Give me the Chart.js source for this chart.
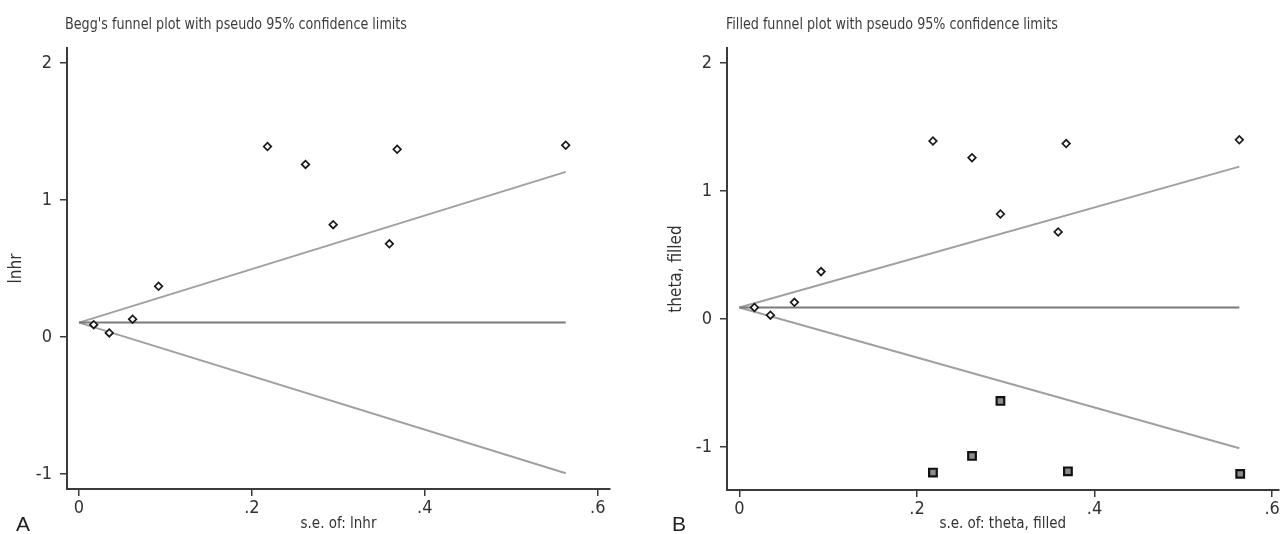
<!DOCTYPE html>
<html lang="en">
<head>
<meta charset="utf-8">
<title>Funnel plots</title>
<script src="https://cdn.jsdelivr.net/npm/chart.js@4.4.1/dist/chart.umd.min.js"></script>
<style>
  html, body {
    margin: 0;
    padding: 0;
    background: #ffffff;
    overflow: hidden;
  }
  .page {
    position: relative;
    width: 1286px;
    height: 534px;
  }
  .panel {
    position: absolute;
    top: 0;
  }
  .panel canvas {
    display: block;
  }
  .panel-title {
    position: absolute;
    top: 14px;
    font-family: "Liberation Sans Narrow", "DejaVu Sans Condensed", "Liberation Sans", sans-serif;
    font-size: 16px;
    line-height: 20px;
    color: #3c3c3c;
    white-space: nowrap;
    transform: scaleX(0.885);
    transform-origin: left center;
  }
  .panel-letter {
    position: absolute;
    top: 511px;
    font-family: "Liberation Sans", Arial, sans-serif;
    font-size: 21px;
    line-height: 26px;
    color: #222222;
  }
</style>
</head>
<body>
<div class="page">
  <div class="panel" style="left: 0; width: 640px; height: 534px;">
    <canvas id="beggChart" width="640" height="534"></canvas>
  </div>
  <div class="panel" style="left: 640px; width: 646px; height: 534px;">
    <canvas id="filledChart" width="646" height="534"></canvas>
  </div>
  <div class="panel-title" style="left: 65px;">Begg's funnel plot with pseudo 95% confidence limits</div>
  <div class="panel-title" style="left: 726px;">Filled funnel plot with pseudo 95% confidence limits</div>
  <div class="panel-letter" style="left: 16px;">A</div>
  <div class="panel-letter" style="left: 672px;">B</div>
</div>

<script>
// observed studies (same in both panels)
const STUDY_SE = [0.017, 0.035, 0.062, 0.092, 0.218, 0.262, 0.294, 0.359, 0.368, 0.563];
const STUDY_LNHR = [0.09, 0.03, 0.13, 0.37, 1.39, 1.26, 0.82, 0.68, 1.37, 1.40];

// imputed (trim and fill) studies, panel B only
const FILLED_SE = [0.218, 0.262, 0.294, 0.370, 0.564];
const FILLED_THETA = [-1.20, -1.07, -0.64, -1.19, -1.21];

// pseudo 95% limits: start and end of each line
const LIMIT_SE = [0, 0.563];
const BEGG_POOLED = [0.105, 0.105];
const BEGG_UPPER = [0.105, 1.205];
const BEGG_LOWER = [0.105, -0.995];
const FILLED_POOLED = [0.09, 0.09];
const FILLED_UPPER = [0.09, 1.19];
const FILLED_LOWER = [0.09, -1.01];

const X_TICKS = [0, 0.2, 0.4, 0.6];
const X_TICK_LABELS = ["0", ".2", ".4", ".6"];
const Y_TICKS = [-1, 0, 1, 2];
const Y_TICK_LABELS = ["-1", "0", "1", "2"];

const NARROW_FONT = "'Liberation Sans Narrow', 'DejaVu Sans Condensed', 'Liberation Sans', sans-serif";
const AXIS_COLOR = "#3a3a3a";
const TEXT_COLOR = "#333333";

function toPoints(xs, ys) {
  return xs.map((x, index) => ({ x, y: ys[index] }));
}

function limitLine(ys, color) {
  return {
    type: "line",
    data: toPoints(LIMIT_SE, ys),
    borderColor: color,
    borderWidth: 2,
    pointRadius: 0,
    fill: false,
    order: 2,
  };
}

function studyMarkers(xs, ys) {
  return {
    type: "scatter",
    data: toPoints(xs, ys),
    pointStyle: "rectRot",
    pointRadius: 3.8,
    pointBorderWidth: 1.7,
    pointBorderColor: "#1a1a1a",
    pointBackgroundColor: "#ffffff",
    order: 0,
  };
}

function filledMarkers(xs, ys) {
  return {
    type: "scatter",
    data: toPoints(xs, ys),
    pointStyle: "rect",
    pointRadius: 5.4,
    pointBorderWidth: 2.2,
    pointBorderColor: "#111111",
    pointBackgroundColor: "#8c8c8c",
    order: 0,
  };
}

function fixedTicks(values, labels) {
  return {
    afterBuildTicks: (scale) => {
      scale.ticks = values.map((value) => ({ value }));
    },
    labelFor: (value) => labels[values.indexOf(value)] ?? "",
  };
}

function buildChart(canvasId, datasets, cfg) {
  const xTicks = fixedTicks(X_TICKS, X_TICK_LABELS);
  const yTicks = fixedTicks(Y_TICKS, Y_TICK_LABELS);

  return new Chart(document.getElementById(canvasId), {
    type: "scatter",
    data: { datasets },
    options: {
      responsive: false,
      animation: false,
      devicePixelRatio: 1,
      layout: {
        padding: { top: 48, right: cfg.rightPad, left: 0, bottom: 0 },
      },
      plugins: {
        legend: { display: false },
        tooltip: { enabled: false },
        title: { display: false },
      },
      scales: {
        x: {
          type: "linear",
          min: cfg.xMin,
          max: cfg.xMax,
          afterBuildTicks: xTicks.afterBuildTicks,
          afterFit: (scale) => {
            scale.height = cfg.xHeight;
          },
          border: { display: true, color: AXIS_COLOR, width: 2 },
          grid: {
            drawOnChartArea: false,
            drawTicks: true,
            tickLength: 7,
            tickColor: AXIS_COLOR,
            lineWidth: 1.5,
          },
          ticks: {
            padding: 2,
            color: TEXT_COLOR,
            font: { family: NARROW_FONT, size: 18 },
            maxRotation: 0,
            autoSkip: false,
            callback: (value) => xTicks.labelFor(value),
          },
          title: {
            display: true,
            text: cfg.xTitle,
            color: TEXT_COLOR,
            font: { family: NARROW_FONT, size: 15, lineHeight: 1.2 },
            padding: { top: 0, bottom: 1 },
          },
        },
        y: {
          type: "linear",
          min: cfg.yMin,
          max: cfg.yMax,
          afterBuildTicks: yTicks.afterBuildTicks,
          afterFit: (scale) => {
            scale.width = cfg.yWidth;
          },
          border: { display: true, color: AXIS_COLOR, width: 2 },
          grid: {
            drawOnChartArea: false,
            drawTicks: true,
            tickLength: 7,
            tickColor: AXIS_COLOR,
            lineWidth: 1.5,
          },
          ticks: {
            padding: 8,
            color: TEXT_COLOR,
            font: { family: NARROW_FONT, size: 18 },
            autoSkip: false,
            callback: (value) => yTicks.labelFor(value),
          },
          title: {
            display: true,
            text: cfg.yTitle,
            color: TEXT_COLOR,
            font: { family: NARROW_FONT, size: 17, lineHeight: 1.2 },
            padding: { top: cfg.yTitlePad, bottom: 0 },
          },
        },
      },
    },
  });
}

buildChart("beggChart", [
  studyMarkers(STUDY_SE, STUDY_LNHR),
  limitLine(BEGG_POOLED, "#7a7a7a"),
  limitLine(BEGG_UPPER, "#a0a0a0"),
  limitLine(BEGG_LOWER, "#a0a0a0"),
], {
  xMin: -0.0139,
  xMax: 0.6142,
  yMin: -1.1095,
  yMax: 2.1095,
  rightPad: 30,
  xHeight: 45,
  yWidth: 67,
  yTitlePad: 6,
  xTitle: "s.e. of: lnhr",
  yTitle: "lnhr",
});

buildChart("filledChart", [
  studyMarkers(STUDY_SE, STUDY_LNHR),
  filledMarkers(FILLED_SE, FILLED_THETA),
  limitLine(FILLED_POOLED, "#7a7a7a"),
  limitLine(FILLED_UPPER, "#a0a0a0"),
  limitLine(FILLED_LOWER, "#a0a0a0"),
], {
  xMin: -0.0139,
  xMax: 0.607,
  yMin: -1.336,
  yMax: 2.117,
  rightPad: 0,
  xHeight: 44,
  yWidth: 87,
  yTitlePad: 26,
  xTitle: "s.e. of: theta, filled",
  yTitle: "theta, filled",
});
</script>
</body>
</html>
